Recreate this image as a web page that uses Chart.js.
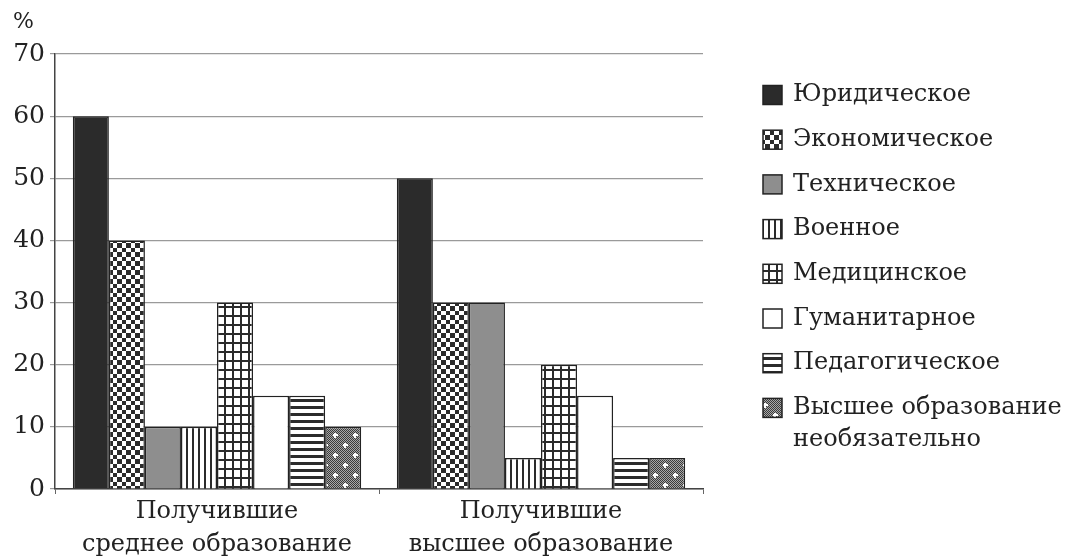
<!DOCTYPE html>
<html>
<head>
<meta charset="utf-8">
<script src="https://cdn.jsdelivr.net/npm/chart.js@4/dist/chart.umd.min.js"></script>
<style>
    html, body { margin: 0; padding: 0; background: #fff; }
</style>
</head>
<body>
<canvas id="eduChart" width="1073" height="556"></canvas>
<script>
// Data
var groups = [['Получившие', 'среднее образование'], ['Получившие', 'высшее образование']];
var seriesNames = ['Юридическое', 'Экономическое', 'Техническое', 'Военное', 'Медицинское',
    'Гуманитарное', 'Педагогическое', 'Высшее образование необязательно'];
var legendLines = [['Юридическое'], ['Экономическое'], ['Техническое'], ['Военное'], ['Медицинское'],
    ['Гуманитарное'], ['Педагогическое'], ['Высшее образование', 'необязательно']];
var law = [60, 50];
var economics = [40, 30];
var technical = [10, 30];
var military = [10, 5];
var medical = [30, 20];
var humanities = [15, 15];
var pedagogy = [15, 5];
var notNeeded = [10, 5];
var yMin = 0, yMax = 70, yStep = 10;

var SERIF = "'DejaVu Serif', serif";
var INK = '#2b2b2b';
var TEXT = '#222';

// Pattern helpers
function makePattern(w, h, draw) {
    var c = document.createElement('canvas');
    c.width = w; c.height = h;
    var g = c.getContext('2d');
    draw(g, w, h);
    return document.getElementById('eduChart').getContext('2d').createPattern(c, 'repeat');
}

var fills = [
    INK,
    // checkerboard
    makePattern(9, 9, function (g) {
        g.fillStyle = '#fff'; g.fillRect(0, 0, 9, 9);
        g.fillStyle = INK; g.fillRect(0, 0, 5, 5); g.fillRect(5, 5, 4, 4);
    }),
    '#8e8e8e',
    // vertical stripes
    makePattern(6, 6, function (g) {
        g.fillStyle = '#fff'; g.fillRect(0, 0, 6, 6);
        g.fillStyle = INK; g.fillRect(0, 0, 2, 6);
    }),
    // grid
    makePattern(8, 9, function (g) {
        g.fillStyle = INK; g.fillRect(0, 0, 8, 9);
        g.fillStyle = '#fff'; g.fillRect(2, 2, 6, 7);
    }),
    '#ffffff',
    // horizontal stripes
    makePattern(7, 7, function (g) {
        g.fillStyle = '#fff'; g.fillRect(0, 0, 7, 7);
        g.fillStyle = INK; g.fillRect(0, 0, 7, 3);
    }),
    // dotted dark texture
    makePattern(20, 20, function (g) {
        for (var i = 0; i < 20; i++) {
            for (var j = 0; j < 20; j++) {
                g.fillStyle = ((i + j) % 2 === 0) ? '#3a3a3a' : '#a8a8a8';
                g.fillRect(i, j, 1, 1);
            }
        }
        g.fillStyle = '#fff';
        [[5, 5], [15, 15]].forEach(function (p) {
            g.fillRect(p[0] - 1, p[1] - 2, 2, 5);
            g.fillRect(p[0] - 2, p[1] - 1, 5, 2);
        });
    })
];

var seriesData = [law, economics, technical, military, medical, humanities, pedagogy, notNeeded];

var datasets = seriesData.map(function (vals, i) {
    return {
        label: seriesNames[i],
        data: vals,
        backgroundColor: fills[i],
        borderColor: '#222',
        borderWidth: 1.5,
        borderSkipped: 'bottom',
        categoryPercentage: 0.89,
        barPercentage: 1.0
    };
});

// Custom legend + "%" label
var sideLegend = {
    id: 'sideLegend',
    afterDraw: function (chart) {
        var ctx = chart.ctx;
        ctx.save();
        ctx.fillStyle = TEXT;
        ctx.font = '22px ' + SERIF;
        ctx.textBaseline = 'middle';
        ctx.textAlign = 'left';
        ctx.fillText('%', 13, 22);

        ctx.font = '24px ' + SERIF;
        var x = 763, y0 = 95, step = 44.7, box = 19;
        legendLines.forEach(function (lines, i) {
            var y = y0 + i * step;
            ctx.fillStyle = fills[i];
            ctx.fillRect(x, y - box / 2, box, box);
            ctx.strokeStyle = '#222';
            ctx.lineWidth = 1.5;
            ctx.strokeRect(x, y - box / 2, box, box);
            ctx.fillStyle = TEXT;
            lines.forEach(function (t, k) {
                ctx.fillText(t, x + 30, y + k * 32);
            });
        });
        ctx.restore();
    }
};

new Chart(document.getElementById('eduChart'), {
    type: 'bar',
    data: { labels: groups, datasets: datasets },
    options: {
        responsive: false,
        animation: false,
        devicePixelRatio: 1,
        layout: { padding: { top: 54, right: 370, left: 0, bottom: 0 } },
        plugins: { legend: { display: false }, tooltip: { enabled: false } },
        scales: {
            x: {
                grid: { offset: true, drawOnChartArea: false, drawTicks: true, tickLength: 5, color: '#666' },
                border: { color: '#444', width: 1.5 },
                ticks: {
                    color: TEXT, maxRotation: 0, padding: 2,
                    font: { family: SERIF, size: 24, lineHeight: 1.35 }
                },
                afterFit: function (s) { s.height = 67; }
            },
            y: {
                min: yMin, max: yMax,
                grid: { color: '#9a9a9a', lineWidth: 1.2, tickLength: 5 },
                border: { color: '#444', width: 1.5 },
                ticks: {
                    stepSize: yStep, color: TEXT, padding: 5,
                    font: { family: SERIF, size: 25 }
                },
                afterFit: function (s) { s.width = 55; }
            }
        }
    },
    plugins: [sideLegend]
});
</script>
</body>
</html>
